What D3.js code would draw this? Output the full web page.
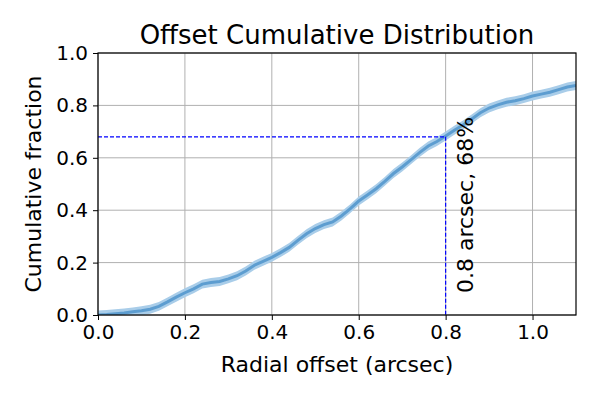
<!DOCTYPE html>
<html><head><meta charset="utf-8">
<script src="https://cdn.jsdelivr.net/npm/d3@7"></script>
<style>body{margin:0;background:#fff}svg{font-family:"DejaVu Sans",sans-serif}</style>
</head><body><svg id="c" width="600" height="400"></svg>
<script>
const offsets = [0.00,0.02,0.04,0.06,0.08,0.10,0.12,0.14,0.16,0.18,0.20,0.22,0.24,0.26,0.28,0.30,0.32,0.34,0.36,0.38,0.40,0.42,0.44,0.46,0.48,0.50,0.52,0.54,0.56,0.58,0.60,0.62,0.64,0.66,0.68,0.70,0.72,0.74,0.76,0.78,0.80,0.82,0.84,0.86,0.88,0.90,0.92,0.94,0.96,0.98,1.00,1.02,1.04,1.06,1.08,1.10];
const fractions = [0.000,0.002,0.005,0.008,0.012,0.016,0.022,0.033,0.050,0.068,0.085,0.100,0.118,0.124,0.128,0.138,0.150,0.168,0.190,0.205,0.220,0.238,0.258,0.285,0.310,0.330,0.345,0.355,0.378,0.405,0.435,0.458,0.482,0.510,0.540,0.565,0.592,0.620,0.645,0.662,0.683,0.705,0.725,0.748,0.772,0.790,0.802,0.812,0.818,0.826,0.836,0.843,0.850,0.860,0.870,0.876];
const bandHalf = 0.017;
const xTicks = [0.0,0.2,0.4,0.6,0.8,1.0];
const yTicks = [0.0,0.2,0.4,0.6,0.8,1.0];
const markX = 0.8, markY = 0.68;
const markLabel = "0.8 arcsec, 68%";

const svg = d3.select("#c");
const L=98,R=576,T=53,B=315;
const x = d3.scaleLinear().domain([0,1.1]).range([L,R]);
const y = d3.scaleLinear().domain([0,1]).range([B,T]);
const data = offsets.map((o,i)=>({x:o,y:fractions[i]}));

// grid
svg.append("g").selectAll("line").data(xTicks).join("line")
  .attr("x1",d=>x(d)).attr("x2",d=>x(d)).attr("y1",T).attr("y2",B)
  .attr("stroke","#b0b0b0").attr("stroke-width",1);
svg.append("g").selectAll("line").data(yTicks).join("line")
  .attr("y1",d=>y(d)).attr("y2",d=>y(d)).attr("x1",L).attr("x2",R)
  .attr("stroke","#b0b0b0").attr("stroke-width",1);

svg.append("clipPath").attr("id","cp").append("rect")
  .attr("x",L).attr("y",T).attr("width",R-L).attr("height",B-T);
const g = svg.append("g").attr("clip-path","url(#cp)");

g.append("path").datum(data)
  .attr("d",d3.area().x(d=>x(d.x)).y0(d=>y(d.y-bandHalf)).y1(d=>y(d.y+bandHalf)))
  .attr("fill","#a9cde9");
g.append("path").datum(data)
  .attr("d",d3.line().x(d=>x(d.x)).y(d=>y(d.y)))
  .attr("fill","none").attr("stroke","#5d9dd0").attr("stroke-width",3);

// marker lines
svg.append("line").attr("x1",L).attr("x2",x(markX)).attr("y1",y(markY)).attr("y2",y(markY))
  .attr("stroke","#0000ff").attr("stroke-width",1.2).attr("stroke-dasharray","4,2");
svg.append("line").attr("x1",x(markX)).attr("x2",x(markX)).attr("y1",y(markY)).attr("y2",B)
  .attr("stroke","#0000ff").attr("stroke-width",1.2).attr("stroke-dasharray","4,2");
svg.append("text").attr("transform",`translate(${x(markX)+27},${B-22}) rotate(-90)`)
  .attr("font-size",22).attr("fill","#000").text(markLabel);

// axes
const xa = svg.append("g").attr("transform",`translate(0,${B})`)
  .call(d3.axisBottom(x).tickValues(xTicks).tickFormat(d3.format(".1f")).tickSize(5).tickPadding(5));
const ya = svg.append("g").attr("transform",`translate(${L},0)`)
  .call(d3.axisLeft(y).tickValues(yTicks).tickFormat(d3.format(".1f")).tickSize(5).tickPadding(5));
[xa,ya].forEach(a=>{a.select(".domain").remove();a.selectAll("text").attr("font-size",20).attr("font-family","DejaVu Sans").attr("fill","#000");a.selectAll("line").attr("stroke","#000");});

svg.append("rect").attr("x",L).attr("y",T).attr("width",R-L).attr("height",B-T)
  .attr("fill","none").attr("stroke","#000").attr("stroke-width",1.2);

svg.append("text").attr("x",(L+R)/2).attr("y",44).attr("text-anchor","middle")
  .attr("font-size",26).text("Offset Cumulative Distribution");
svg.append("text").attr("x",(L+R)/2).attr("y",372).attr("text-anchor","middle")
  .attr("font-size",22).text("Radial offset (arcsec)");
svg.append("text").attr("transform",`translate(41,${(T+B)/2}) rotate(-90)`).attr("text-anchor","middle")
  .attr("font-size",22).text("Cumulative fraction");
</script></body></html>
